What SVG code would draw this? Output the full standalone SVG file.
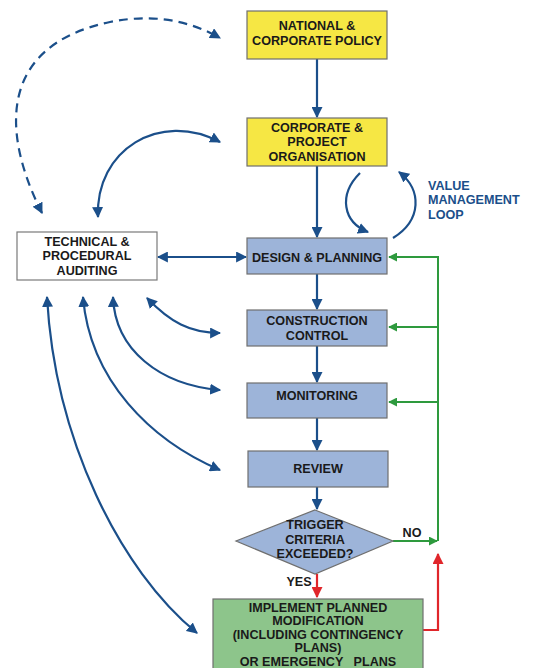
<svg xmlns="http://www.w3.org/2000/svg" width="533" height="668" viewBox="0 0 533 668">
<style>
.t{font-family:"Liberation Sans",Arial,sans-serif;font-weight:bold;font-size:12.6px;fill:#1a1a1a;text-anchor:middle}
.y{fill:#F6E744;stroke:#6f6f6f;stroke-width:1.2}
.b{fill:#9DB4D9;stroke:#6f6f6f;stroke-width:1.2}
.g{fill:#8DC58B;stroke:#6f6f6f;stroke-width:1.2}
.w{fill:#fff;stroke:#7a7a7a;stroke-width:1.2}
.bl{fill:none;stroke:#1B4F8A;stroke-width:2.2}
.gr{fill:none;stroke:#2E9A3E;stroke-width:2}
.rd{fill:none;stroke:#E0262B;stroke-width:2.2}
.vm{font-family:"Liberation Sans",Arial,sans-serif;font-weight:bold;font-size:12.6px;fill:#1B4F8A}
</style>
<defs>
<marker id="ab" viewBox="0 0 10 10" refX="9" refY="5" markerWidth="11" markerHeight="11" markerUnits="userSpaceOnUse" orient="auto-start-reverse"><path d="M0,0 L10,5 L0,10 z" fill="#1B4F8A"/></marker>
<marker id="ag" viewBox="0 0 10 10" refX="9" refY="5" markerWidth="9" markerHeight="9" markerUnits="userSpaceOnUse" orient="auto-start-reverse"><path d="M0,0 L10,5 L0,10 z" fill="#2E9A3E"/></marker>
<marker id="ar" viewBox="0 0 10 10" refX="9" refY="5" markerWidth="11" markerHeight="11" markerUnits="userSpaceOnUse" orient="auto-start-reverse"><path d="M0,0 L10,5 L0,10 z" fill="#E0262B"/></marker>
</defs>
<g id="connectors">
<path class="bl" d="M317,59 V117" marker-end="url(#ab)"/>
<path class="bl" d="M317,166 V237" marker-end="url(#ab)"/>
<path class="bl" d="M317,274 V309" marker-end="url(#ab)"/>
<path class="bl" d="M317,346 V382" marker-end="url(#ab)"/>
<path class="bl" d="M317,418 V450" marker-end="url(#ab)"/>
<path class="bl" d="M317,487 V509" marker-end="url(#ab)"/>
<path class="bl" d="M158,257 H246" marker-start="url(#ab)" marker-end="url(#ab)"/>
<path class="bl" d="M42,213 C0,130 0,45 110,22 C160,12 195,24 220,38" stroke-dasharray="9,6" marker-start="url(#ab)" marker-end="url(#ab)"/>
<path class="bl" d="M98,217 C95,150 160,110 220,142" marker-start="url(#ab)" marker-end="url(#ab)"/>
<path class="bl" d="M360,173 C338,195 343,222 368,232" marker-end="url(#ab)"/>
<path class="bl" d="M393,238 C422,220 422,190 399,172" marker-end="url(#ab)"/>
<path class="bl" d="M147,298 C170,322 190,333 220,333" marker-start="url(#ab)" marker-end="url(#ab)"/>
<path class="bl" d="M113,297 C115,350 160,385 220,390" marker-start="url(#ab)" marker-end="url(#ab)"/>
<path class="bl" d="M83,297 C90,380 150,440 220,470" marker-start="url(#ab)" marker-end="url(#ab)"/>
<path class="bl" d="M47,297 C55,440 120,570 197,633" marker-start="url(#ab)" marker-end="url(#ab)"/>
<path class="gr" d="M438,541 V257 H389" marker-end="url(#ag)"/>
<path class="gr" d="M438,327 H389" marker-end="url(#ag)"/>
<path class="gr" d="M438,402 H389" marker-end="url(#ag)"/>
<path class="gr" d="M393,541 H437" marker-end="url(#ag)"/>
<path class="rd" d="M317,574 V597" marker-end="url(#ar)"/>
<path class="rd" d="M423,630 H438 V554" marker-end="url(#ar)"/>
</g>
<g id="national">
<rect class="y" x="247" y="11" width="140" height="48"/>
<text class="t" x="317" y="30">NATIONAL &amp;</text>
<text class="t" x="317" y="44.5">CORPORATE POLICY</text>
</g>
<g id="corporate">
<rect class="y" x="247" y="118" width="140" height="48"/>
<text class="t" x="317" y="131.5">CORPORATE &amp;</text>
<text class="t" x="317" y="146">PROJECT</text>
<text class="t" x="317" y="160.5">ORGANISATION</text>
</g>
<g id="design">
<rect class="b" x="247" y="238" width="140" height="36"/>
<text class="t" x="317" y="261.5">DESIGN &amp; PLANNING</text>
</g>
<g id="auditing">
<rect class="w" x="17" y="232" width="140" height="48"/>
<text class="t" x="87" y="245.5">TECHNICAL &amp;</text>
<text class="t" x="87" y="260">PROCEDURAL</text>
<text class="t" x="87" y="274.5">AUDITING</text>
</g>
<g id="construction">
<rect class="b" x="247" y="310" width="140" height="36"/>
<text class="t" x="317" y="325">CONSTRUCTION</text>
<text class="t" x="317" y="339.5">CONTROL</text>
</g>
<g id="monitoring">
<rect class="b" x="247" y="383" width="140" height="35"/>
<text class="t" x="317" y="400">MONITORING</text>
</g>
<g id="review">
<rect class="b" x="248" y="451" width="140" height="36"/>
<text class="t" x="318" y="473">REVIEW</text>
</g>
<g id="trigger">
<polygon class="b" points="315,510 393,541 315,574 236,541"/>
<text class="t" x="315" y="529">TRIGGER</text>
<text class="t" x="315" y="543.5">CRITERIA</text>
<text class="t" x="315" y="558">EXCEEDED?</text>
</g>
<g id="labels">
<text class="t" x="412" y="537">NO</text>
<text class="t" x="299" y="586">YES</text>
<text class="vm" x="428" y="189.5">VALUE</text>
<text class="vm" x="428" y="204">MANAGEMENT</text>
<text class="vm" x="428" y="218.5">LOOP</text>
</g>
<g id="implement">
<rect class="g" x="213" y="599" width="210" height="75"/>
<text class="t" x="318" y="611.5">IMPLEMENT PLANNED</text>
<text class="t" x="318" y="625">MODIFICATION</text>
<text class="t" x="318" y="638.5">(INCLUDING CONTINGENCY</text>
<text class="t" x="318" y="652">PLANS)</text>
<text class="t" x="318" y="665.5" xml:space="preserve">OR EMERGENCY   PLANS</text>
</g>
</svg>
